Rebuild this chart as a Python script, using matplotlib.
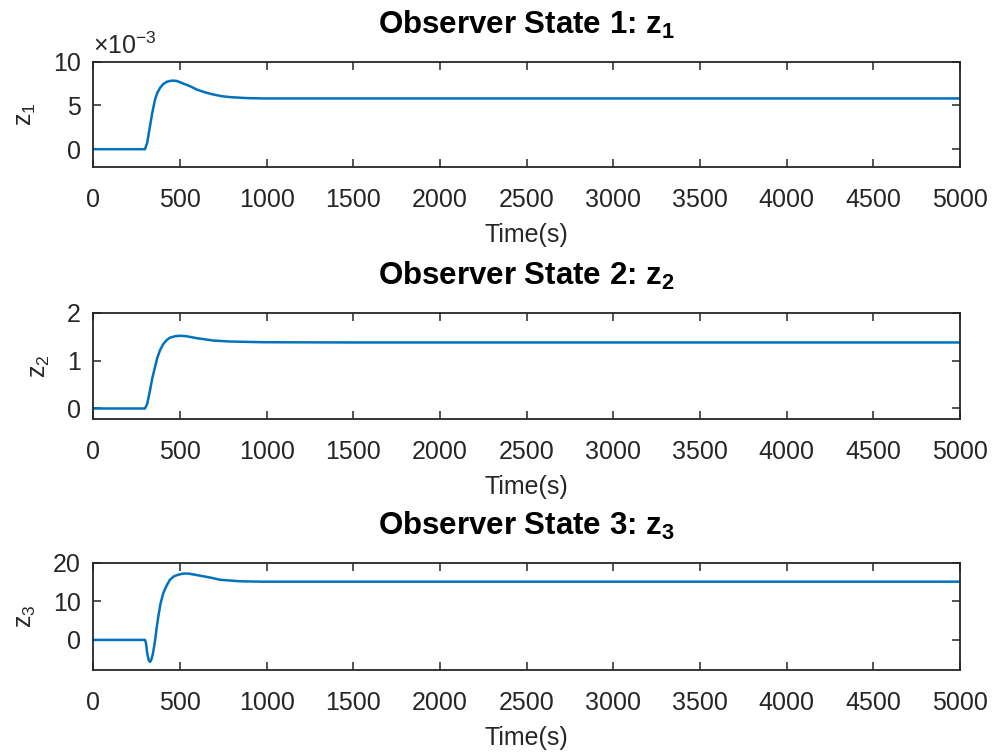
import matplotlib
matplotlib.use('Agg')
import matplotlib.pyplot as plt
from matplotlib.ticker import FuncFormatter

# Valores (tiempo en s)
t1 = [0, 298, 311, 327, 340, 356, 369, 385, 404, 423, 442, 461, 481, 519, 558,
      596, 644, 692, 740, 788, 885, 980, 1500, 5000]
z1 = [0, 0, 0.76e-3, 2.65e-3, 4.17e-3, 5.68e-3, 6.44e-3, 7.01e-3, 7.46e-3,
      7.69e-3, 7.80e-3, 7.84e-3, 7.80e-3, 7.5e-3, 7.2e-3, 6.82e-3, 6.5e-3,
      6.25e-3, 6.06e-3, 5.95e-3, 5.84e-3, 5.8e-3, 5.8e-3, 5.8e-3]

t2 = [0, 298, 311, 327, 340, 356, 369, 385, 404, 423, 442, 471, 500, 538, 596,
      692, 788, 980, 1500, 5000]
z2 = [0, 0, 0.10, 0.38, 0.63, 0.87, 1.06, 1.22, 1.35, 1.43, 1.48, 1.51, 1.52,
      1.51, 1.47, 1.42, 1.40, 1.385, 1.38, 1.38]

t3 = [0, 298, 304, 311, 319, 327, 334, 342, 350, 358, 365, 375, 388, 404, 423,
      442, 465, 490, 519, 548, 586, 634, 682, 730, 788, 845, 980, 1500, 5000]
z3 = [0, 0, -0.9, -3.5, -5.2, -5.7, -5.2, -3.9, -1.9, 0.4, 3.0, 6.1, 9.5, 12.2,
      14.1, 15.6, 16.5, 16.9, 17.2, 17.2, 16.9, 16.5, 16.1, 15.6, 15.4, 15.2,
      15.1, 15.1, 15.1]

xticks = [0, 500, 1000, 1500, 2000, 2500, 3000, 3500, 4000, 4500, 5000]

plt.rcParams['font.family'] = ['Liberation Sans', 'DejaVu Sans']
plt.rcParams['mathtext.fontset'] = 'custom'
plt.rcParams['mathtext.rm'] = 'Liberation Sans'
plt.rcParams['mathtext.it'] = 'Liberation Sans'
plt.rcParams['mathtext.bf'] = 'Liberation Sans:bold'
plt.rcParams['mathtext.default'] = 'regular'

color_eje = '#262626'
color_linea = '#0072BD'

fig = plt.figure(figsize=(9.94, 7.55), dpi=100)

# posiciones de cada eje [izq, abajo, ancho, alto]
posiciones = [
    [0.0939, 0.7792, 0.8719, 0.1391],
    [0.0939, 0.4450, 0.8719, 0.1407],
    [0.0939, 0.1126, 0.8719, 0.1420],
]
datos = [(t1, z1), (t2, z2), (t3, z3)]
limites_y = [(-0.002, 0.010), (-0.22, 2), (-7.8, 20)]
ticks_y = [[0, 0.005, 0.010], [0, 1, 2], [0, 10, 20]]

for i in range(3):
    ax = fig.add_axes(posiciones[i])
    t, z = datos[i]
    ax.plot(t, z, color=color_linea, linewidth=1.8)
    ax.set_xlim(0, 5000)
    ax.set_ylim(*limites_y[i])
    ax.set_xticks(xticks)
    ax.set_yticks(ticks_y[i])
    ax.tick_params(direction='in', length=6, width=1.1, colors=color_eje,
                   labelsize=18, top=True, right=True)
    ax.tick_params(axis='x', pad=15)
    ax.tick_params(axis='y', pad=9)
    for s in ax.spines.values():
        s.set_color(color_eje)
        s.set_linewidth(1.3)
    ax.set_xlabel('Time(s)', fontsize=18, color=color_eje, labelpad=8)
    ax.set_ylabel(r'z$_{%d}$' % (i + 1), fontsize=18, color=color_eje, labelpad=11)
    ax.set_title(r'Observer State %d: $\mathbf{z_{%d}}$' % (i + 1, i + 1),
                 fontsize=22.5, fontweight='bold', color='black', pad=20)
    if i == 0:
        ax.yaxis.set_major_formatter(FuncFormatter(lambda v, p: '%g' % round(v * 1e3, 6)))
        ax.text(0, 1.03, r'$\times$10$^{-3}$', transform=ax.transAxes,
                fontsize=18, color=color_eje, va='bottom', ha='left')

fig.savefig('out.png', dpi=100)
